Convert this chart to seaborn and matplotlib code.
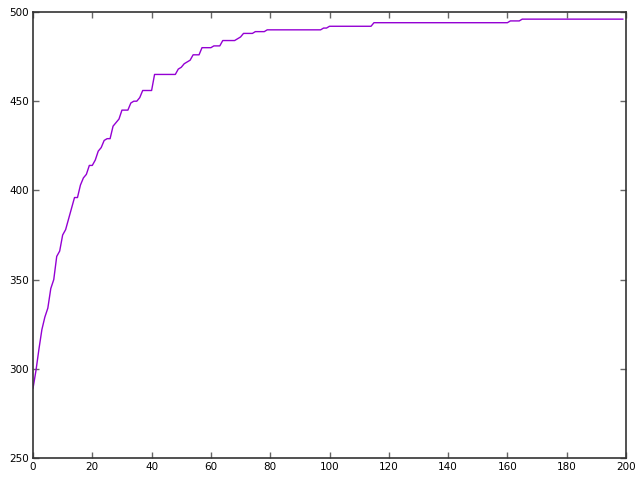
import numpy as np
import pandas as pd
import seaborn as sns
import matplotlib
matplotlib.use("Agg")
import matplotlib.pyplot as plt

# Values (one per generation, 0..199)
generation = list(range(200))
fitness = (
    [289, 299, 311, 322, 329, 334, 345, 350, 363, 366,
     375, 378, 384, 390, 396, 396, 403, 407, 409, 414,
     414, 417, 422, 424, 428, 429, 429, 436, 438, 440,
     445, 445, 445, 449, 450, 450, 452, 456, 456, 456,
     456, 465, 465, 465, 465, 465, 465, 465, 465, 468,
     469, 471, 472, 473, 476, 476, 476, 480, 480, 480,
     480, 481, 481, 481, 484, 484, 484, 484, 484, 485,
     486, 488, 488, 488, 488, 489, 489, 489, 489, 490]
    + [490] * 18          # 80..97
    + [491, 491]          # 98..99
    + [492] * 15          # 100..114
    + [494] * 46          # 115..160
    + [495] * 4           # 161..164
    + [496] * 35          # 165..199
)

df = pd.DataFrame({"generation": generation, "fitness": fitness})

sns.set_style("ticks")
plt.rcParams['font.family'] = ['DejaVu Sans']

fig = plt.figure(figsize=(6.4, 4.8), dpi=100)
ax = fig.add_axes([33 / 640, 1 - 458 / 480, (626 - 33) / 640, (458 - 12) / 480])

sns.lineplot(data=df, x="generation", y="fitness", ax=ax, color="#9400D3", linewidth=1)

ax.set_xlim(0, 200)
ax.set_ylim(250, 500)
ax.set_xticks(np.arange(0, 201, 20))
ax.set_yticks(np.arange(250, 501, 50))
ax.set_xlabel("")
ax.set_ylabel("")
ax.tick_params(direction="in", length=4, width=1, top=True, right=True,
               labelsize=7.5, color="#666666", labelcolor="black", pad=3)
for s in ax.spines.values():
    s.set_visible(True)
    s.set_color("#333333")
    s.set_linewidth(1.2)

fig.savefig("out.png", dpi=100)
